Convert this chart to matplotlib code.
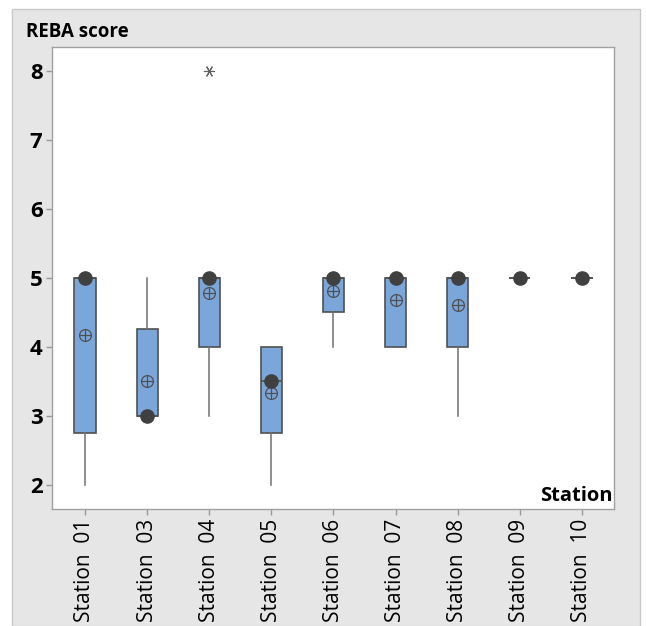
import matplotlib.pyplot as plt
from matplotlib.patches import Rectangle

# REBA score summary per station
stations = ['Station  01', 'Station  03', 'Station  04', 'Station  05', 'Station  06',
            'Station  07', 'Station  08', 'Station  09', 'Station  10']
q1 = [2.75, 3.0, 4.0, 2.75, 4.5, 4.0, 4.0, 5.0, 5.0]
q3 = [5.0, 4.25, 5.0, 4.0, 5.0, 5.0, 5.0, 5.0, 5.0]
med = [5.0, 3.0, 5.0, 3.5, 5.0, 5.0, 5.0, 5.0, 5.0]
whislo = [2.0, 3.0, 3.0, 2.0, 4.0, 4.0, 3.0, 5.0, 5.0]
whishi = [5.0, 5.0, 5.0, 4.0, 5.0, 5.0, 5.0, 5.0, 5.0]
means = [4.17, 3.5, 4.78, 3.33, 4.8, 4.67, 4.6, 5.0, 5.0]
outliers = [[], [], [8.0], [], [], [], [], [], []]

plt.rcParams['font.family'] = ['Open Sans', 'DejaVu Sans']

fig = plt.figure(figsize=(6.46, 6.26), dpi=100)
fig.patch.set_facecolor('white')
# grey panel behind the chart
fig.patches.append(Rectangle((12 / 646, 0), 628 / 646, 1 - 9 / 626, transform=fig.transFigure,
                             facecolor='#e6e6e6', edgecolor='#c8c8c8', linewidth=1, zorder=-10))

ax = fig.add_axes([52.3 / 646, 1 - 508.7 / 626, 562 / 646, 462 / 626])
ax.set_facecolor('white')

pos = list(range(1, len(stations) + 1))
stats = []
for i in range(len(stations)):
    stats.append(dict(med=med[i], q1=q1[i], q3=q3[i], whislo=whislo[i], whishi=whishi[i],
                      mean=means[i], fliers=outliers[i]))

ax.bxp(stats, positions=pos, widths=0.34, patch_artist=True, showcaps=False,
       showmeans=True, showfliers=True,
       boxprops=dict(facecolor='#7ba6da', edgecolor='#505050', linewidth=1.2),
       whiskerprops=dict(color='#707070', linewidth=1.1),
       medianprops=dict(color='#505050', linewidth=1.2),
       meanprops=dict(marker='o', markersize=8.5, markerfacecolor='none',
                      markeredgecolor='#505050', markeredgewidth=0.9),
       flierprops=dict(marker=(6, 2, 90), markersize=8, markeredgecolor='#606060',
                       markeredgewidth=0.8))
# cross inside the mean circle
ax.plot(pos, means, linestyle='none', marker='+', markersize=8.5, color='#505050',
        markeredgewidth=0.9, zorder=4)
# median dots
ax.plot(pos, med, linestyle='none', marker='o', markersize=9.5, color='#404040', zorder=5)

ax.set_xlim(0.474, 9.52)
ax.set_ylim(1.65, 8.35)
ax.set_yticks([2, 3, 4, 5, 6, 7, 8])
ax.set_xticks(pos)
ax.set_xticklabels(stations, rotation=90, va='top', fontsize=15)
for lab in ax.get_yticklabels():
    lab.set_fontsize(16)
    lab.set_fontweight('bold')
ax.tick_params(axis='both', colors='#999999', length=4, width=1, labelcolor='black', pad=3)
for s in ax.spines.values():
    s.set_color('#a0a0a0')
    s.set_linewidth(1)

fig.text(26 / 646, 1 - 37 / 626, 'REBA score', fontsize=13.5, fontweight='bold',
         ha='left', va='baseline')
ax.text(0.997, 0.005, 'Station', transform=ax.transAxes, fontsize=14.5, fontweight='bold',
        ha='right', va='bottom')

fig.savefig('out.png', dpi=100)
